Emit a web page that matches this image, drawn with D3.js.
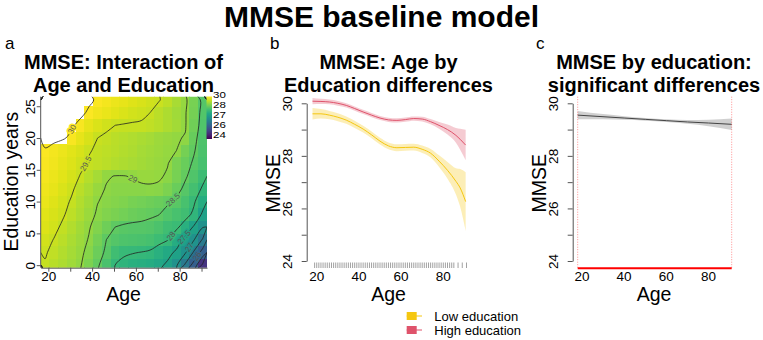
<!DOCTYPE html>
<html>
<head>
<meta charset="utf-8">
<script src="https://cdn.jsdelivr.net/npm/d3@7"></script>
<style>
  body { margin: 0; background: #fff; }
  svg { font-family: "Liberation Sans", Arial, Helvetica, sans-serif; }
</style>
</head>
<body>
<svg id="chart" width="763" height="340"></svg>
<script>
// ---- data: panel a (MMSE surface, age x education) ----
var gridAges = [18.5, 22.5, 26.5, 30.5, 34.5, 38.5, 42.5, 46.5, 50.5, 54.5, 58.5, 62.5, 66.5, 70.5, 74.5, 78.5, 82.5, 86.5, 90.5];
var gridEdu = [0, 2, 4, 6, 8, 10, 12, 14, 16, 18, 20, 22, 24, 26];
// one row per education level, one value per age column
var mmseGrid = [
  [29.47, 29.36, 29.25, 29.14, 29.03, 28.82, 28.55, 28.28, 28.00, 27.91, 27.82, 27.75, 27.68, 27.58, 27.43, 27.06, 26.43, 25.80, 24.90],
  [29.53, 29.42, 29.30, 29.19, 29.07, 28.91, 28.66, 28.43, 28.15, 28.05, 28.02, 27.99, 27.95, 27.82, 27.62, 27.43, 27.06, 26.44, 25.80],
  [29.60, 29.49, 29.37, 29.24, 29.12, 28.98, 28.74, 28.50, 28.40, 28.33, 28.30, 28.28, 28.22, 28.12, 28.02, 27.72, 27.38, 27.03, 26.45],
  [29.68, 29.58, 29.45, 29.31, 29.17, 29.03, 28.86, 28.68, 28.50, 28.44, 28.42, 28.42, 28.40, 28.30, 28.17, 28.08, 27.82, 27.45, 27.03],
  [29.74, 29.64, 29.54, 29.40, 29.25, 29.10, 28.96, 28.87, 28.80, 28.72, 28.65, 28.60, 28.55, 28.51, 28.38, 28.25, 28.15, 27.92, 27.42],
  [29.80, 29.70, 29.60, 29.47, 29.32, 29.16, 29.01, 28.94, 28.88, 28.83, 28.78, 28.73, 28.68, 28.62, 28.55, 28.43, 28.25, 28.05, 27.72],
  [29.85, 29.77, 29.67, 29.55, 29.39, 29.24, 29.08, 28.98, 28.94, 28.93, 28.93, 28.94, 28.95, 28.93, 28.82, 28.62, 28.42, 28.20, 27.95],
  [29.90, 29.82, 29.73, 29.62, 29.49, 29.33, 29.18, 29.03, 28.99, 28.99, 29.02, 29.07, 29.08, 29.05, 28.95, 28.78, 28.55, 28.35, 28.12],
  [29.95, 29.87, 29.78, 29.68, 29.57, 29.47, 29.42, 29.37, 29.32, 29.27, 29.22, 29.17, 29.12, 29.07, 29.02, 28.80, 28.63, 28.45, 28.25],
  [29.97, 29.90, 29.82, 29.73, 29.63, 29.52, 29.46, 29.41, 29.36, 29.31, 29.25, 29.20, 29.15, 29.10, 29.05, 29.00, 28.75, 28.53, 28.30],
  [30.10, 30.07, 30.03, 29.95, 29.78, 29.63, 29.50, 29.44, 29.39, 29.34, 29.29, 29.24, 29.18, 29.13, 29.08, 29.03, 28.98, 28.60, 28.32],
  [30.20, 30.15, 30.10, 30.04, 29.93, 29.77, 29.65, 29.57, 29.50, 29.48, 29.47, 29.47, 29.42, 29.35, 29.27, 29.17, 29.03, 28.70, 28.35],
  [30.40, 30.35, 30.28, 30.18, 30.07, 29.96, 29.87, 29.80, 29.73, 29.66, 29.60, 29.55, 29.50, 29.38, 29.27, 29.15, 29.03, 28.75, 28.38],
  [30.50, 30.45, 30.38, 30.28, 30.17, 30.05, 29.96, 29.90, 29.83, 29.77, 29.70, 29.64, 29.57, 29.52, 29.40, 29.22, 29.06, 28.78, 28.40]
];
var contourLevels = [25, 25.5, 26, 26.5, 27, 27.5, 28, 28.5, 29, 29.5, 30];
var labelledLevels = [26, 27, 27.5, 28, 28.5, 29, 29.5, 30];
var colorbarLabels = ["30", "28", "27", "26", "24"];
var eduTicks = [0, 5, 10, 15, 20, 25];
var ageTicks = [20, 30, 40, 50, 60, 70, 80, 90];
var ageLabels = [20, 40, 60, 80];

// ---- data: panel b (fitted MMSE by age, low / high education) ----
var curveAges = [18, 22, 26, 30, 34, 38, 42, 46, 50, 54, 58, 62, 66, 70, 74, 78, 82, 86, 88, 90.6];
var lowEdu   = [29.60, 29.60, 29.55, 29.47, 29.36, 29.20, 29.02, 28.80, 28.56, 28.38, 28.31, 28.32, 28.33, 28.25, 28.10, 27.80, 27.45, 27.03, 26.78, 26.26];
var lowEduSe = [0.22, 0.18, 0.16, 0.15, 0.14, 0.14, 0.13, 0.13, 0.13, 0.13, 0.13, 0.13, 0.13, 0.14, 0.16, 0.22, 0.32, 0.50, 0.72, 1.12];
var highEdu   = [30.08, 30.07, 30.05, 30.00, 29.92, 29.80, 29.67, 29.55, 29.44, 29.37, 29.35, 29.38, 29.42, 29.40, 29.30, 29.16, 29.00, 28.78, 28.63, 28.41];
var highEduSe = [0.12, 0.10, 0.09, 0.09, 0.08, 0.08, 0.08, 0.08, 0.08, 0.08, 0.08, 0.08, 0.08, 0.09, 0.10, 0.13, 0.19, 0.28, 0.40, 0.58];
var rugAges = [19, 20, 21, 22, 23, 24, 25, 26, 27, 28, 29, 30, 31, 32, 33, 34, 35, 36, 37, 38, 39, 40,
  41, 42, 43, 44, 45, 46, 47, 48, 49, 50, 51, 52, 53, 54, 55, 56, 57, 58, 59, 60, 61, 62, 63, 64, 65,
  66, 67, 68, 69, 70, 71, 72, 73, 74, 75, 76, 77, 78, 79, 80, 81, 82, 83, 84, 85, 87, 89, 91];
var mmseTicks = [24, 25, 26, 27, 28, 29, 30];
var legendLabels = ["Low education", "High education"];

// ---- data: panel c (MMSE by education, significant region) ----
var sigAges = [18, 30, 40, 50, 60, 70, 80, 91];
var sigMmse = [29.55, 29.49, 29.44, 29.39, 29.34, 29.29, 29.25, 29.20];
var sigSe   = [0.16, 0.10, 0.07, 0.05, 0.05, 0.07, 0.12, 0.22];
var sigRange = [18, 91];

var svg = d3.select("#chart");
var lowCol = "#F5C710", highCol = "#DF536B";
var tickBase = 281;   // baseline of the x tick labels

// main title
svg.append("text")
  .attr("x", 381.5).attr("y", 27)
  .attr("text-anchor", "middle")
  .style("font-size", "30px").style("font-weight", "bold")
  .text("MMSE baseline model");

function panelTitle(cx, lines, letter, lx) {
  lines.forEach(function (t, i) {
    svg.append("text")
      .attr("x", cx).attr("y", 68.5 + i * 23)
      .attr("text-anchor", "middle")
      .style("font-size", "20px").style("font-weight", "bold")
      .text(t);
  });
  svg.append("text").attr("x", lx).attr("y", 49)
    .style("font-size", "17px").text(letter);
}

function yTitle(x, cy, t) {
  svg.append("text")
    .attr("transform", "translate(" + x + "," + cy + ")rotate(-90)")
    .attr("text-anchor", "middle")
    .style("font-size", "19.5px")
    .text(t);
}

function xTitle(cx, t) {
  svg.append("text").attr("x", cx).attr("y", 300.5)
    .attr("text-anchor", "middle").style("font-size", "19.5px").text(t);
}

// R-like left axis with rotated labels
function leftAxis(scale, x, ticks, showLabel, tickLen, labelGap) {
  var g = svg.append("g").attr("transform", "translate(" + x + ",0)")
    .call(d3.axisLeft(scale).tickValues(ticks).tickSize(tickLen).tickSizeOuter(0)
      .tickFormat(function (d) { return showLabel(d) ? d : ""; }));
  g.select(".domain").attr("stroke", "#555");
  g.selectAll(".tick line").attr("stroke", "#555");
  g.selectAll(".tick text")
    .attr("transform", "rotate(-90)")
    .attr("x", 0).attr("y", -labelGap).attr("dy", 0)
    .attr("text-anchor", "middle")
    .style("font-size", "13.5px").attr("fill", "#000");
  return g;
}

// ================= panel a =================
var xa = d3.scaleLinear().domain([16.5, 92.5]).range([40.7, 207]);
var ya = d3.scaleLinear().domain([-0.4, 26.5]).range([267.7, 96.7]);
var viridis = d3.scaleSequential(d3.interpolateViridis).domain([24, 30]);
var cw = gridAges[1] - gridAges[0], chh = gridEdu[1] - gridEdu[0];

svg.append("clipPath").attr("id", "clipA").append("rect")
  .attr("x", xa(16.5)).attr("y", ya(26.5))
  .attr("width", xa(92.5) - xa(16.5)).attr("height", ya(-0.4) - ya(26.5));

var cellData = [];
mmseGrid.forEach(function (row, i) {
  row.forEach(function (v, j) { cellData.push({age: gridAges[j], edu: gridEdu[i], v: v}); });
});

var pa = svg.append("g").attr("clip-path", "url(#clipA)");
pa.selectAll("rect.cell")
  .data(cellData.filter(function (d) { return d.v <= 30; }))
  .enter().append("rect")
  .attr("class", "cell")
  .attr("x", function (d) { return xa(d.age - cw / 2); })
  .attr("y", function (d) { return ya(d.edu + chh / 2); })
  .attr("width", function (d) { return xa(d.age + cw / 2) - xa(d.age - cw / 2) + 0.3; })
  .attr("height", function (d) { return ya(d.edu - chh / 2) - ya(d.edu + chh / 2) + 0.3; })
  .attr("fill", function (d) { return viridis(d.v); })
  .attr("shape-rendering", "crispEdges");

// contour lines from the same grid
var nx = gridAges.length, ny = gridEdu.length;
var flat = [];
mmseGrid.forEach(function (row) { row.forEach(function (v) { flat.push(v); }); });
var contours = d3.contours().size([nx, ny]).thresholds(contourLevels)(flat);
var gx = d3.scaleLinear().domain([0, nx]).range([gridAges[0] - cw / 2, gridAges[nx - 1] + cw / 2]);
var gy = d3.scaleLinear().domain([0, ny]).range([gridEdu[0] - chh / 2, gridEdu[ny - 1] + chh / 2]);

function onBorder(p, q) {
  return (p[0] === 0 && q[0] === 0) || (p[0] === nx && q[0] === nx) ||
         (p[1] === 0 && q[1] === 0) || (p[1] === ny && q[1] === ny);
}

function ringToLines(ring) {
  var n = ring.length - 1, start = -1;
  for (var k = 0; k < n; k++) { if (onBorder(ring[k], ring[k + 1])) { start = k + 1; break; } }
  var lines = [], cur = [];
  if (start < 0) { return [ring.slice()]; }
  for (var s = 0; s < n; s++) {
    var k0 = (start + s) % n, k1 = (k0 + 1) % n;
    var p = ring[k0], q = ring[k1];
    if (onBorder(p, q)) {
      if (cur.length > 1) lines.push(cur);
      cur = [];
    } else {
      if (!cur.length) cur.push(p);
      cur.push(q);
    }
  }
  if (cur.length > 1) lines.push(cur);
  return lines;
}

var lineGen = d3.line().curve(d3.curveCatmullRom.alpha(0.5));
var contourG = pa.append("g");
var labelG = svg.append("g").attr("clip-path", "url(#clipA)");

contours.forEach(function (c) {
  var lines = [];
  c.coordinates.forEach(function (poly) {
    poly.forEach(function (ring) { lines = lines.concat(ringToLines(ring)); });
  });
  var pxLines = lines.map(function (l) {
    return l.map(function (p) { return [xa(gx(p[0])), ya(gy(p[1]))]; });
  });
  pxLines.forEach(function (l) {
    contourG.append("path").attr("d", lineGen(l))
      .attr("fill", "none").attr("stroke", "#222").attr("stroke-width", 0.8);
  });
  if (labelledLevels.indexOf(c.value) < 0 || !pxLines.length) return;
  // label in the middle of the longest piece
  var best = null, bestLen = 0;
  pxLines.forEach(function (l) {
    var len = 0;
    for (var k = 1; k < l.length; k++) len += Math.hypot(l[k][0] - l[k - 1][0], l[k][1] - l[k - 1][1]);
    if (len > bestLen) { bestLen = len; best = l; }
  });
  var half = bestLen / 2, acc = 0, lx = best[0][0], ly = best[0][1], ang = 0;
  for (var k = 1; k < best.length; k++) {
    var seg = Math.hypot(best[k][0] - best[k - 1][0], best[k][1] - best[k - 1][1]);
    if (acc + seg >= half) {
      var t = (half - acc) / seg;
      lx = best[k - 1][0] + t * (best[k][0] - best[k - 1][0]);
      ly = best[k - 1][1] + t * (best[k][1] - best[k - 1][1]);
      ang = Math.atan2(best[k][1] - best[k - 1][1], best[k][0] - best[k - 1][0]) * 180 / Math.PI;
      break;
    }
    acc += seg;
  }
  if (ang > 90) ang -= 180;
  if (ang < -90) ang += 180;
  labelG.append("text")
    .attr("transform", "translate(" + lx + "," + ly + ")rotate(" + ang + ")")
    .attr("text-anchor", "middle").attr("dy", "0.32em")
    .style("font-size", "8px").attr("fill", "#555")
    .attr("stroke", viridis(c.value)).attr("stroke-width", 3).attr("paint-order", "stroke")
    .text(c.value);
});

// axes for panel a
leftAxis(ya, xa(16.5), eduTicks, function () { return true; }, 4, 6)
  .select(".domain").attr("d", "M0," + ya(-0.4) + "V" + ya(26.5));
var axA = svg.append("g").attr("transform", "translate(0," + ya(-0.4) + ")")
  .call(d3.axisBottom(xa).tickValues(ageTicks).tickSize(4).tickSizeOuter(0)
    .tickFormat(function (d) { return ageLabels.indexOf(d) >= 0 ? d : ""; }));
axA.select(".domain").attr("stroke", "#555");
axA.selectAll(".tick line").attr("stroke", "#555");
axA.selectAll(".tick text").attr("y", tickBase - ya(-0.4)).attr("dy", 0)
  .style("font-size", "13.5px").attr("fill", "#000");

// colour bar
var cbTop = 96.5, cbBottom = 139, cbX = 206.5, cbW = 5.5;
var grad = svg.append("defs").append("linearGradient").attr("id", "cbGrad")
  .attr("x1", 0).attr("y1", 1).attr("x2", 0).attr("y2", 0);
d3.range(0, 1.0001, 0.1).forEach(function (t) {
  grad.append("stop").attr("offset", t).attr("stop-color", d3.interpolateViridis(t));
});
svg.append("rect").attr("x", cbX).attr("y", cbTop).attr("width", cbW).attr("height", cbBottom - cbTop)
  .attr("fill", "url(#cbGrad)");
// labels are squeezed vertically, as in the original legend strip
var cbLab = d3.scalePoint().domain(colorbarLabels).range([95, 135]);
svg.selectAll("text.cb").data(colorbarLabels).enter().append("text")
  .attr("class", "cb")
  .attr("transform", function (d) { return "translate(213," + cbLab(d) + ")scale(1,0.75)"; })
  .attr("dy", "0.36em")
  .style("font-size", "11.5px")
  .text(function (d) { return d; });

panelTitle(123.5, ["MMSE: Interaction of", "Age and Education"], "a", 5);
yTitle(17.5, 181.7, "Education years");
xTitle(123.5, "Age");

// ================= panel b =================
var xb = d3.scaleLinear().domain([18, 91]).range([312.5, 466.5]);
var ym = d3.scaleLinear().domain([24, 30]).range([261, 103.3]);

function band(g, xs, x, ys, se, fill) {
  var pts = xs.map(function (a, i) { return {a: a, m: ys[i], s: se[i]}; });
  g.append("path").datum(pts)
    .attr("d", d3.area().curve(d3.curveMonotoneX)
      .x(function (d) { return x(d.a); })
      .y0(function (d) { return ym(d.m - d.s); })
      .y1(function (d) { return ym(d.m + d.s); }))
    .attr("fill", fill);
  return pts;
}
function fitLine(g, pts, x, stroke) {
  g.append("path").datum(pts)
    .attr("d", d3.line().curve(d3.curveMonotoneX)
      .x(function (d) { return x(d.a); })
      .y(function (d) { return ym(d.m); }))
    .attr("fill", "none").attr("stroke", stroke).attr("stroke-width", 1);
}

var pb = svg.append("g");
var lowPts = band(pb, curveAges, xb, lowEdu, lowEduSe, "rgba(245,199,16,0.30)");
var highPts = band(pb, curveAges, xb, highEdu, highEduSe, "rgba(223,83,107,0.30)");
fitLine(pb, lowPts, xb, lowCol);
fitLine(pb, highPts, xb, highCol);

pb.selectAll("line.rug").data(rugAges).enter().append("line")
  .attr("class", "rug")
  .attr("x1", function (d) { return xb(d); }).attr("x2", function (d) { return xb(d); })
  .attr("y1", 262.5).attr("y2", 268)
  .attr("stroke", "#444").attr("stroke-width", 0.5);

leftAxis(ym, 306.7, mmseTicks, function (d) { return d % 2 === 0; }, 5, 15);
svg.selectAll("text.xb").data(ageLabels).enter().append("text")
  .attr("class", "xb")
  .attr("x", function (d) { return xb(d); }).attr("y", tickBase)
  .attr("text-anchor", "middle").style("font-size", "13.5px")
  .text(function (d) { return d; });

panelTitle(388.5, ["MMSE: Age by", "Education differences"], "b", 270);
yTitle(280, 183.3, "MMSE");
xTitle(388.5, "Age");

// legend
var legCols = [lowCol, highCol];
var leg = svg.append("g");
legendLabels.forEach(function (t, i) {
  var cy = 316 + i * 14;
  leg.append("rect").attr("x", 406.7).attr("y", cy - 4).attr("width", 10).attr("height", 8)
    .attr("fill", legCols[i]);
  leg.append("line").attr("x1", 406.7).attr("x2", 422).attr("y1", cy).attr("y2", cy)
    .attr("stroke", legCols[i]).attr("stroke-width", 1);
  leg.append("text").attr("x", 434.3).attr("y", cy).attr("dy", "0.36em")
    .style("font-size", "13px").text(t);
});

// ================= panel c =================
var xc = d3.scaleLinear().domain([18, 91]).range([577.7, 731.7]);
var pc = svg.append("g");
var sigPts = band(pc, sigAges, xc, sigMmse, sigSe, "rgba(150,150,150,0.45)");
fitLine(pc, sigPts, xc, "#444");

pc.selectAll("line.sigv").data(sigRange).enter().append("line")
  .attr("class", "sigv")
  .attr("x1", function (d) { return xc(d); }).attr("x2", function (d) { return xc(d); })
  .attr("y1", 96.7).attr("y2", 268)
  .attr("stroke", "#ff0000").attr("stroke-opacity", 0.55)
  .attr("stroke-width", 0.8).attr("stroke-dasharray", "1,1.5");
pc.append("line")
  .attr("x1", xc(sigRange[0])).attr("x2", xc(sigRange[1]))
  .attr("y1", 268.3).attr("y2", 268.3)
  .attr("stroke", "#ff0000").attr("stroke-width", 2);

leftAxis(ym, 572.7, mmseTicks, function (d) { return d % 2 === 0; }, 5, 15);
svg.selectAll("text.xc").data(ageLabels).enter().append("text")
  .attr("class", "xc")
  .attr("x", function (d) { return xc(d); }).attr("y", tickBase)
  .attr("text-anchor", "middle").style("font-size", "13.5px")
  .text(function (d) { return d; });

panelTitle(654, ["MMSE by education:", "significant differences"], "c", 536);
yTitle(545.5, 183.3, "MMSE");
xTitle(654, "Age");
</script>
</body>
</html>
